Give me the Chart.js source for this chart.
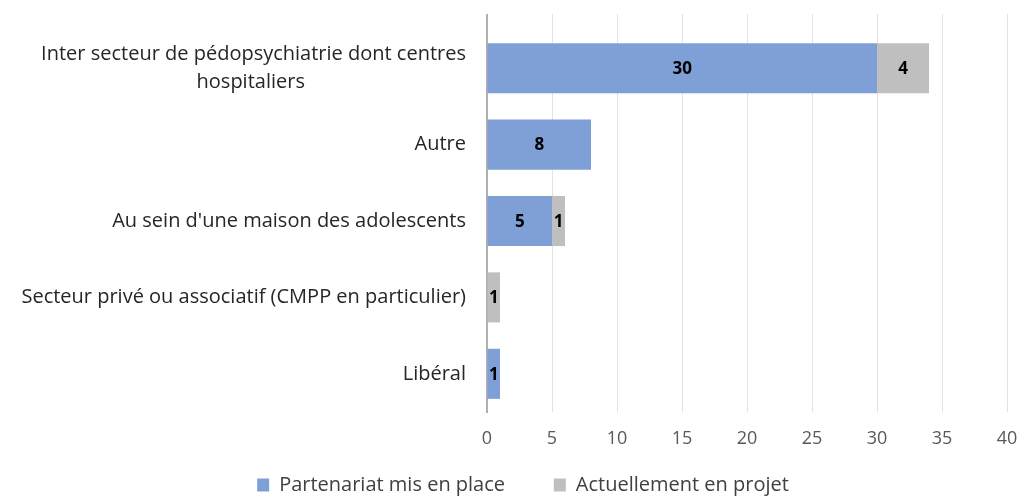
<!DOCTYPE html>
<html>
<head>
<meta charset="utf-8">
<script src="https://cdn.jsdelivr.net/npm/chart.js@4/dist/chart.umd.min.js"></script>
<style>
  html, body { margin: 0; padding: 0; background: #fff; }
  #wrap { width: 1018px; height: 497px; }
</style>
</head>
<body>
<div id="wrap"><canvas id="partChart"></canvas></div>
<script>
// categories (first one wraps on two lines, second line centred under the first)
const categories = [
  ['Inter secteur de pédopsychiatrie dont centres', 'hospitaliers' + ' '.repeat(31)],
  'Autre',
  "Au sein d'une maison des adolescents",
  'Secteur privé ou associatif (CMPP en particulier)',
  'Libéral'
];
const enPlace = [30, 8, 5, 0, 1];
const enProjet = [4, 0, 1, 1, 0];
const xTicks = [0, 5, 10, 15, 20, 25, 30, 35, 40];

const FONT = '"Open Sans", Lato, sans-serif';
const GRID = '#e2e2e2';
const AXIS = '#b0b0b0';

// gridlines and axis run a little above the first bar, as in Excel
const gridTop = {
  id: 'gridTop',
  afterLayout(chart) {
    // legend sits a bit right of centre in the original
    if (chart.legend) { chart.legend.left += 12; chart.legend.right += 12; }
  },
  beforeDatasetsDraw(chart) {
    const { ctx, chartArea, scales } = chart;
    ctx.save();
    ctx.lineWidth = 1;
    ctx.strokeStyle = GRID;
    xTicks.slice(1).forEach(v => {
      const x = Math.round(scales.x.getPixelForValue(v)) + 0.5;
      ctx.beginPath();
      ctx.moveTo(x, chartArea.top - 16);
      ctx.lineTo(x, chartArea.top);
      ctx.stroke();
    });
    ctx.lineWidth = 2;
    ctx.strokeStyle = AXIS;
    const x0 = scales.x.getPixelForValue(0);
    ctx.beginPath();
    ctx.moveTo(x0, chartArea.top - 16);
    ctx.lineTo(x0, chartArea.top);
    ctx.stroke();
    ctx.restore();
  }
};

// draw the value labels in the middle of each segment
const barLabels = {
  id: 'barLabels',
  afterDatasetsDraw(chart) {
    const ctx = chart.ctx;
    ctx.save();
    ctx.font = 'bold 17px ' + FONT;
    ctx.fillStyle = '#000';
    ctx.textAlign = 'center';
    ctx.textBaseline = 'middle';
    chart.data.datasets.forEach((ds, i) => {
      chart.getDatasetMeta(i).data.forEach((bar, j) => {
        const v = ds.data[j];
        if (!v) return;
        ctx.fillText(String(v), (bar.x + bar.base) / 2, bar.y + 1);
      });
    });
    ctx.restore();
  }
};

new Chart(document.getElementById('partChart'), {
  type: 'bar',
  data: {
    labels: categories,
    datasets: [
      {
        label: 'Partenariat mis en place',
        data: enPlace,
        backgroundColor: '#7f9fd7',
        categoryPercentage: 0.8,
        barPercentage: 0.82
      },
      {
        label: 'Actuellement en projet',
        data: enProjet,
        backgroundColor: '#bfbfbf',
        categoryPercentage: 0.8,
        barPercentage: 0.82
      }
    ]
  },
  options: {
    indexAxis: 'y',
    responsive: true,
    maintainAspectRatio: false,
    animation: false,
    layout: { padding: { top: 30, right: 4, left: 8, bottom: -8 } },
    plugins: {
      tooltip: { enabled: false },
      legend: {
        position: 'bottom',
        labels: {
          color: '#404040',
          font: { family: FONT, size: 20 },
          boxWidth: 12,
          boxHeight: 13,
          padding: 2,
          generateLabels: chart => {
            const items = Chart.defaults.plugins.legend.labels.generateLabels(chart);
            items[0].text += ' '.repeat(9);
            return items;
          }
        }
      }
    },
    scales: {
      x: {
        stacked: true,
        min: 0,
        max: 40,
        afterBuildTicks: scale => { scale.ticks = xTicks.map(v => ({ value: v })); },
        afterFit: scale => { scale.paddingRight = 11; scale.height = 61; },
        grid: { color: GRID, drawTicks: false },
        border: { display: false },
        ticks: {
          color: '#595959',
          font: { family: FONT, size: 18 },
          padding: 16
        }
      },
      y: {
        stacked: true,
        grid: { display: false },
        border: { color: AXIS, width: 2 },
        afterFit: scale => { scale.width = 479; },
        ticks: {
          color: '#262626',
          font: { family: FONT, size: 20, lineHeight: 1.4 },
          padding: 13
        }
      }
    }
  },
  plugins: [gridTop, barLabels]
});
</script>
</body>
</html>
